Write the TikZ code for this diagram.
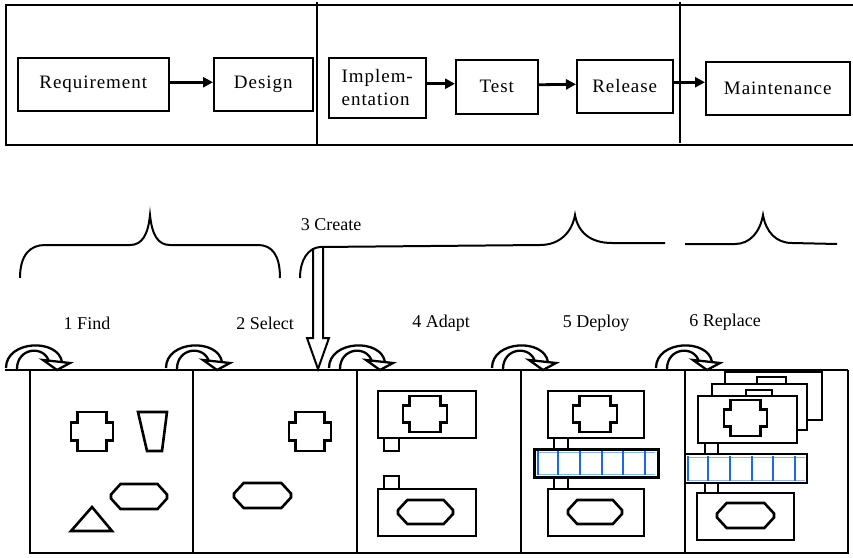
\documentclass[tikz,border=0pt]{standalone}
\usepackage{fontspec}
\setmainfont{Liberation Serif}
\newfontfamily\topfont[LetterSpace=5]{Liberation Serif}
\usetikzlibrary{arrows.meta}
\begin{document}
\begin{tikzpicture}[x=1pt,y=-1pt,
  box/.style={draw, line width=1.5pt, anchor=north west, font=\topfont\fontsize{19}{23}\selectfont, inner sep=0pt},
  flow/.style={line width=2.8pt, -{Triangle[length=10pt,width=10pt]}},
  lbl/.style={font=\fontsize{18}{20}\selectfont, inner sep=0pt},
  frame/.style={line width=1.6pt},
  pline/.style={line width=1.6pt},
  shp/.style={line width=2.6pt, line join=miter},
  comp/.style={line width=2.4pt, fill=white},
  blu/.style={draw={rgb,255:red,25;green,105;blue,235}, line width=2pt},
  blulight/.style={draw={rgb,255:red,140;green,180;blue,245}, line width=1pt},
  crossshape/.pic={\draw[shp] (0.15,0) -- (0.85,0) -- (0.85,0.27) -- (1,0.27) -- (1,0.73) -- (0.85,0.73) -- (0.85,1) -- (0.15,1) -- (0.15,0.73) -- (0,0.73) -- (0,0.27) -- (0.15,0.27) -- cycle;},
  hexshape/.pic={\draw[shp] (0,0.42) -- (0.17,0) -- (0.83,0) -- (1,0.42) -- (1,0.58) -- (0.83,1) -- (0.17,1) -- (0,0.58) -- cycle;},
  carrow/.pic={
    \draw[line width=2.3pt] (0,0) .. controls (0,-28) and (52,-30) .. (56,-6);
    \draw[line width=2.3pt] (11,1) .. controls (11,-21) and (39,-23) .. (43,-6);
    \draw[line width=2.3pt, line join=miter] (37,-8) -- (64,-5) -- (51,2) -- cycle;
  }]
\useasboundingbox (0,0) rectangle (853,557);

% ---------- top process row ----------
\draw[frame] (853,5) -- (6,5) -- (6,145) -- (853,145);
\draw[frame] (317,2) -- (317,145);
\draw[frame] (680,2) -- (680,143);

\node[box, minimum width=151, minimum height=53] (req) at (17,57) {Requirement};
\node[box, minimum width=99, minimum height=53] (des) at (213,57) {Design};
\node[box, minimum width=97, minimum height=60, align=left] (imp) at (328,57) {Implem-\\entation};
\node[box, minimum width=82, minimum height=54] (tst) at (455,59) {Test};
\node[box, minimum width=96, minimum height=53] (rel) at (576,59) {Release};
\node[box, minimum width=144, minimum height=53] (mnt) at (705,61) {Maintenance};

\draw[flow] ([yshift=2pt]req.east) -- ([yshift=2pt]des.west);
\draw[flow] ([yshift=3pt]imp.east |- tst.west) -- ([yshift=3pt]tst.west);
\draw[flow] ([yshift=2pt]tst.east) -- ([yshift=2pt]rel.west);
\draw[flow] ([yshift=4pt]rel.east) -- ([yshift=4pt]mnt.west |- rel.east);

% ---------- braces ----------
\draw[line width=2pt] (20,278) .. controls (20,255) and (30,245) .. (45,245) -- (130,245)
  .. controls (142,245) and (148,235) .. (150,215) .. controls (152,235) and (158,245) .. (170,245)
  -- (258,245) .. controls (272,245) and (280,255) .. (280,278);
\draw[line width=2pt] (300,278) .. controls (300,260) and (308,248) .. (320,247) -- (540,245)
  .. controls (560,245) and (572,232) .. (575,215) .. controls (578,232) and (590,243) .. (612,243) -- (665,243);
\draw[line width=2pt] (685,244) -- (735,244) .. controls (750,244) and (760,232) .. (763,215)
  .. controls (766,232) and (776,243) .. (792,243) -- (837,244);

% ---------- labels ----------
\node[lbl] (create) at (331,225) {3 Create};
\node[lbl] (find) at (87,323) {1 Find};
\node[lbl] (select) at (265,323) {2 Select};
\node[lbl] (adapt) at (441,323) {4 Adapt};
\node[lbl] (deploy) at (596,323) {5 Deploy};
\node[lbl] (replace) at (725,322) {6 Replace};

% ---------- create arrow ----------
\coordinate (ctop) at (318,248);
\coordinate (cbot) at (318,369);
\draw[line width=2pt, line join=miter] ([xshift=-5pt]ctop) -- ([xshift=-5pt,yshift=31pt]cbot) -- ([xshift=-11pt,yshift=31pt]cbot) -- (cbot)
  -- ([xshift=11pt,yshift=31pt]cbot) -- ([xshift=5pt,yshift=31pt]cbot) -- ([xshift=5pt]ctop);

% ---------- curved arrows ----------
\pic at (6,368) {carrow};
\pic at (166,368) {carrow};
\pic at (329,368) {carrow};
\pic at (492,368) {carrow};
\pic at (656,368) {carrow};

% ---------- panels ----------
\draw[line width=2.6pt] (5,370) -- (848,370);
\draw[line width=2.6pt] (30,370) -- (30,553) -- (848,553) -- (848,370);
\draw[pline] (193,370) -- (193,553);
\draw[pline] (357,370) -- (357,553);
\draw[pline] (521,370) -- (521,553);
\draw[pline] (685,370) -- (685,553);

% panel 1
\pic[xscale=42, yscale=39] at (71,412) {crossshape};
\draw[shp] (138,412) -- (167,412) -- (162,451) -- (147,451) -- cycle;
\pic[xscale=56, yscale=25] at (111,484) {hexshape};
\draw[shp] (71,531) -- (92,507) -- (112,531) -- cycle;

% panel 2
\pic[xscale=42, yscale=39] at (289,412) {crossshape};
\pic[xscale=57, yscale=25] at (234,483) {hexshape};

% panel 3
\draw[comp] (378,391) rectangle (476,438);
\pic[xscale=44, yscale=36] at (403,396) {crossshape};
\draw[comp] (384,438) rectangle (399,451);
\draw[comp] (384,476) rectangle (399,489);
\draw[comp] (378,489) rectangle (476,536);
\pic[xscale=55, yscale=24] at (398,500) {hexshape};

% panel 4
\draw[comp] (548,391) rectangle (644,438);
\pic[xscale=44, yscale=36] at (573,396) {crossshape};
\draw[comp] (554,438) rectangle (568,449);
\draw[comp] (554,477) rectangle (568,489);
\draw[comp] (548,489) rectangle (644,536);
\pic[xscale=54, yscale=24] at (568,500) {hexshape};
\draw[line width=3pt, fill=white] (534,449) rectangle (658,477);
\draw[blulight] (537,452) -- (655,452);
\draw[blulight] (537,474) -- (655,474);
\foreach \bx in {538,558,580,602,623,645} \draw[blu] (\bx,451) -- (\bx,475);

% panel 5
\draw[comp] (725,372) rectangle (822,420);
\draw[comp] (712,384) rectangle (807,430);
\draw[comp] (757,377) rectangle (786,384);
\draw[comp] (698,396) rectangle (797,443);
\draw[comp] (746,390) rectangle (772,396);
\pic[xscale=43, yscale=36] at (724,400) {crossshape};
\draw[comp] (705,443) rectangle (718,454);
\draw[comp] (705,483) rectangle (718,493);
\draw[line width=2.6pt, fill=white] (685,454) rectangle (807,483);
\draw[blulight] (688,457) -- (805,457);
\draw[blulight] (688,480) -- (805,480);
\foreach \bx in {688,708,730,752,773,795} \draw[blu] (\bx,456) -- (\bx,481);
\draw[comp] (697,493) rectangle (794,540);
\pic[xscale=57, yscale=25] at (717,503) {hexshape};
\end{tikzpicture}
\end{document}
